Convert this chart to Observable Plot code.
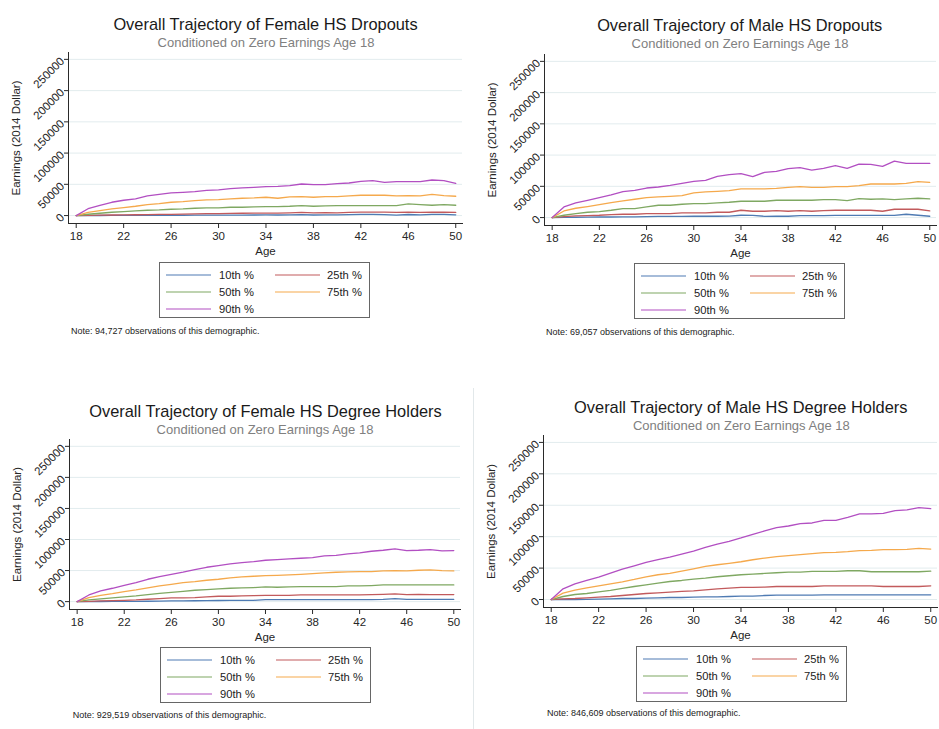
<!DOCTYPE html>
<html><head><meta charset="utf-8">
<script src="https://cdn.jsdelivr.net/npm/d3@7"></script>
<script src="https://cdn.jsdelivr.net/npm/@observablehq/plot@0.6"></script>
<style>
body{margin:0;background:#fff;font-family:"Liberation Sans",Arial,Helvetica,sans-serif;}
#root{position:relative;width:939px;height:729px;overflow:hidden;background:#fff;}
.abs{position:absolute;white-space:nowrap;}
.title{font-size:16.4px;color:#1a1a1a;transform:translate(-50%,-50%);}
.sub{font-size:13px;color:#808080;transform:translate(-50%,-50%);}
.note{font-size:9px;color:#222;transform:translateY(-50%);}
.legend{border:1px solid #666;box-sizing:border-box;width:211px;height:56px;background:#fff;}
.sw{position:absolute;height:0;border-top:1.6px solid;width:45px;transform:translateY(-50%);}
.lt{position:absolute;font-size:11.2px;color:#222;transform:translateY(-50%);white-space:nowrap;}
.sep{position:absolute;left:473px;top:388px;height:341px;width:0;border-left:1px solid #e2e8ea;}
</style></head><body><div id="root"><div class="sep"></div></div>
<script>
// ---------- data ----------
const ages = [18,19,20,21,22,23,24,25,26,27,28,29,30,31,32,33,34,35,36,37,38,39,40,41,42,43,44,45,46,47,48,49,50];
const pctLabels = ["10th %","25th %","50th %","75th %","90th %"];
const xTicks = [18,22,26,30,34,38,42,46,50];
const yTicks = [0,50000,100000,150000,200000,250000];

const titles = ["Overall Trajectory of Female HS Dropouts","Overall Trajectory of Male HS Dropouts","Overall Trajectory of Female HS Degree Holders","Overall Trajectory of Male HS Degree Holders"];
const subtitle = "Conditioned on Zero Earnings Age 18";
const notes = ["Note: 94,727 observations of this demographic.","Note: 69,057 observations of this demographic.","Note: 929,519 observations of this demographic.","Note: 846,609 observations of this demographic."];

// Female HS Dropouts
const fDrop10 = [0,0,100,200,200,300,300,400,500,500,600,700,700,800,800,900,1000,900,1000,1600,900,1100,1000,1600,1800,1800,1500,800,1700,1000,1800,1800,1200];
const fDrop25 = [0,300,600,900,1100,1300,1600,1800,2000,2400,2700,3000,3000,3500,3700,3800,4000,4000,4300,5000,4200,4800,4400,5200,5400,5400,5400,5200,5300,5000,5300,5300,5000];
const fDrop50 = [0,2100,3700,5300,6400,7400,8500,9000,10100,10600,11700,12200,12200,13300,13300,13800,14400,14400,14900,16000,14900,15400,16000,16000,16000,16000,16000,16000,18600,17600,16500,17600,16500];
const fDrop75 = [0,5000,8000,10600,12800,14900,17600,19200,21300,22300,23900,25000,25500,26600,27700,28200,29300,27700,29800,30300,29300,30300,30300,31400,32500,32500,32500,31400,31900,31400,34000,31900,30900];
const fDrop90 = [0,11000,16500,21300,24500,26600,31400,34000,36200,37200,38300,40400,41000,43100,44200,45200,46300,46800,47900,50500,49500,49500,51000,52100,54800,55900,53200,54300,54300,54300,56900,55900,51600];

// Male HS Dropouts
const mDrop10 = [0,300,500,700,900,900,1000,1000,1600,1800,1800,2000,2100,2100,2100,2300,3700,3500,2000,2100,2100,3200,3200,3200,3500,3500,3500,3500,3500,3500,5300,3700,2100];
const mDrop25 = [0,1600,2700,3200,3700,4800,5300,5300,6400,6400,6400,7400,7400,7400,8500,8500,11700,10100,10100,11200,10100,11200,10100,11200,11700,11700,11700,11700,10100,13300,13300,13300,10600];
const mDrop50 = [0,3700,6400,8500,9600,11700,14400,14400,17000,19700,19700,21300,22300,22300,23400,24500,26100,26100,26100,27700,27700,27700,27700,28700,28700,27100,30300,29300,29800,28700,29800,30900,29800];
const mDrop75 = [0,10600,14900,17600,20700,23900,26600,29300,31900,33000,34000,35100,39400,41000,42000,43100,45800,45800,45800,46800,48400,49500,48400,48400,49500,49500,51100,53700,53700,53700,54800,57500,56400];
const mDrop90 = [0,17000,23400,27700,31900,36200,41500,43600,47300,48900,51600,54800,58000,59600,66000,68600,70200,65400,72400,73900,78200,79800,76100,78700,83000,78700,85600,85100,81900,90400,86700,86700,86700];

// Female HS Degree Holders
const fDeg10 = [0,0,200,300,400,500,600,900,1100,1300,1400,1600,1800,1900,2000,2100,3200,3200,3200,3200,3200,3200,3200,3200,3200,3200,3700,4800,3700,3700,3700,3700,3700];
const fDeg25 = [0,500,1100,1600,2100,2700,3800,4800,5900,5900,6400,7500,8600,8600,9100,9700,10200,10200,10200,10700,10700,10700,10700,10700,10700,11300,11800,12300,11300,11800,11300,11300,11300];
const fDeg50 = [0,2700,4300,5900,7500,9100,11300,13400,15000,16600,18300,19300,20400,21500,22000,22600,23600,23100,23600,24200,24200,24200,24200,25200,25200,25800,26800,26800,26800,26800,26800,26800,26800];
const fDeg75 = [0,6400,10200,12900,16100,18800,22000,25200,27900,30600,32200,34400,36000,38100,39700,40800,41900,42400,43000,44000,45100,46200,47300,47800,48300,48300,49400,49900,49400,50500,51000,49900,49400];
const fDeg90 = [0,10700,17200,21500,26300,30600,36000,40300,44000,47300,51600,55300,58000,60700,62800,64400,66600,67700,68700,69800,70900,73600,74600,76800,78400,81100,82700,84900,82200,82700,83800,81600,82200];

// Male HS Degree Holders
const mDeg10 = [0,0,0,300,500,1100,1600,1600,2100,2700,3200,3200,3700,4300,4300,4800,5300,5300,6400,6900,6900,6900,6900,7400,7400,7400,7400,7400,7400,7400,7400,7400,7400];
const mDeg25 = [0,1100,1600,2700,3700,4800,6400,8000,9600,10600,11700,12800,13800,15400,17000,18100,19200,19200,19700,20700,20700,20700,20700,21800,21800,21800,21800,21800,20700,20700,20700,20700,21800];
const mDeg50 = [0,4800,8000,9600,12200,14400,17600,20700,23400,26100,28700,30300,32500,34000,36200,37800,39400,40400,41500,42600,43600,43600,44700,44700,44700,45800,45800,44200,44200,44200,44200,44200,45200];
const mDeg75 = [0,10100,14900,18600,21800,25000,28200,31900,36200,39400,41500,45200,48900,52700,55300,57500,60100,63300,66000,68100,69700,71300,72900,74500,75000,76100,77700,78200,79300,79300,79800,81400,80300];
const mDeg90 = [0,17000,25000,30300,35600,42000,48400,53700,59000,63300,67600,72400,77100,83000,88300,92600,97900,103700,109100,114400,117000,120800,121800,126100,126100,130900,136200,136200,137200,141500,142600,146300,144700];

// ---------- styles / layout ----------
const colors = ["#4f7bb3","#c25a5c","#7fa862","#f5a94c","#b24fc2"];
const FONT = '"Liberation Sans", Arial, Helvetica, sans-serif';
const xDomain = [17.35, 50.57];
const yDomain = [-12700, 261000];

const panels = [
  {series:[fDrop10,fDrop25,fDrop50,fDrop75,fDrop90], L:68, T:52, W:394, H:171, tx:265.5, ty:24, sx:266, sy:42, lx:159, ly:262, nx:71, ny:331},
  {series:[mDrop10,mDrop25,mDrop50,mDrop75,mDrop90], L:544, T:54, W:392, H:171, tx:739.7, ty:25, sx:740, sy:43.3, lx:634, ly:263, nx:546, ny:331.7},
  {series:[fDeg10,fDeg25,fDeg50,fDeg75,fDeg90], L:69, T:439, W:391, H:170, tx:265.5, ty:411, sx:265, sy:429, lx:160, ly:647, nx:72.7, ny:715},
  {series:[mDeg10,mDeg25,mDeg50,mDeg75,mDeg90], L:543, T:435, W:394, H:172, tx:740.8, ty:406.7, sx:741.3, sy:425, lx:636, ly:646, nx:547, ny:712.7}
];

const root = document.getElementById("root");
function addDiv(cls, x, y, text) {
  const d = document.createElement("div");
  d.className = "abs " + cls;
  d.style.left = x + "px"; d.style.top = y + "px";
  if (text != null) d.textContent = text;
  root.appendChild(d);
  return d;
}

panels.forEach((p, k) => {
  const rows = [];
  pctLabels.forEach((lab, i) => p.series[i].forEach((v, j) => rows.push({age: ages[j], value: v, pct: lab})));
  const mL = 68, mT = 8, mR = 6, mB = 36;
  const chart = Plot.plot({
    width: mL + p.W + mR,
    height: mT + p.H + mB,
    marginLeft: mL, marginTop: mT, marginRight: mR, marginBottom: mB,
    style: {fontFamily: FONT, fontSize: "11.5px", color: "#262626", background: "transparent", overflow: "visible"},
    x: {domain: xDomain},
    y: {domain: yDomain},
    color: {domain: pctLabels, range: colors},
    marks: [
      Plot.gridY(yTicks, {stroke: "#e2ecee", strokeOpacity: 1, strokeWidth: 1}),
      Plot.frame({anchor: "left", stroke: "#2a2a2a", strokeWidth: 1}),
      Plot.frame({anchor: "bottom", stroke: "#2a2a2a", strokeWidth: 1}),
      Plot.axisY(yTicks, {tickSize: 4, tickPadding: 2, tickRotate: -45, fontSize: 11.5, stroke: "#2a2a2a",
        tickFormat: d => String(d), label: "Earnings (2014 Dollar)", labelAnchor: "center", labelOffset: 57, labelArrow: "none"}),
      Plot.axisX(xTicks, {tickSize: 5, tickPadding: 3, fontSize: 11.5, stroke: "#2a2a2a",
        tickFormat: d => String(d), label: "Age", labelAnchor: "center", labelOffset: 31, labelArrow: "none"}),
      Plot.lineY(rows, {x: "age", y: "value", stroke: "pct", z: "pct", strokeWidth: 1.3})
    ]
  });
  chart.style.position = "absolute";
  chart.style.left = (p.L - mL) + "px";
  chart.style.top = (p.T - mT) + "px";
  root.appendChild(chart);

  addDiv("title", p.tx, p.ty, titles[k]);
  addDiv("sub", p.sx, p.sy, subtitle);
  addDiv("note", p.nx, p.ny, notes[k]);

  const lg = addDiv("legend", p.lx, p.ly);
  const rowY = [12.3, 29, 45.7];
  pctLabels.forEach((lab, i) => {
    const col = i % 2, row = Math.floor(i / 2);
    const sw = document.createElement("div");
    sw.className = "sw";
    sw.style.left = (col ? 115 : 6) + "px";
    sw.style.top = rowY[row] + "px";
    sw.style.borderTopColor = colors[i];
    lg.appendChild(sw);
    const t = document.createElement("div");
    t.className = "lt";
    t.style.left = (col ? 167 : 59) + "px";
    t.style.top = rowY[row] + "px";
    t.textContent = lab;
    lg.appendChild(t);
  });
});
</script></body></html>
